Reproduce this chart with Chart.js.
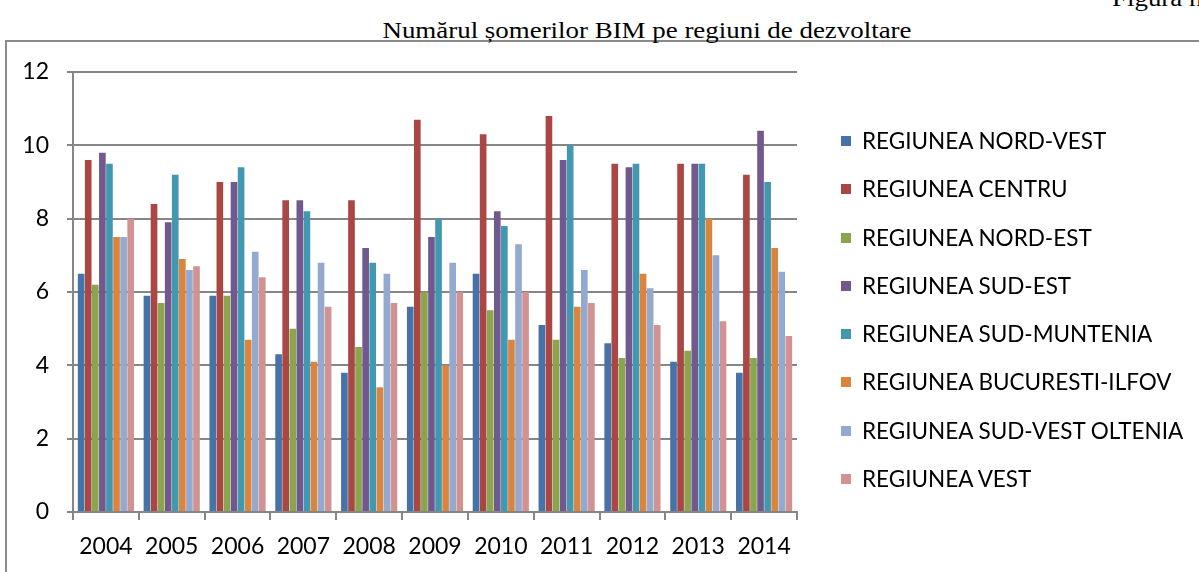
<!DOCTYPE html>
<html>
<head>
<meta charset="utf-8">
<script src="https://cdn.jsdelivr.net/npm/chart.js@4/dist/chart.umd.min.js"></script>
<style>
html,body{margin:0;padding:0;background:#fff;width:1199px;height:572px;overflow:hidden;}
#wrap{position:relative;width:1199px;height:572px;overflow:hidden;}
#frame{position:absolute;left:5px;top:40px;width:1300px;height:600px;border:2px solid #8a8a8a;box-sizing:border-box;}
#cv{position:absolute;left:0;top:0;}
#title{position:absolute;left:647px;top:18px;transform:translateX(-50%) scaleX(1.17);font-family:"Liberation Serif","Times New Roman",serif;font-size:23px;color:#000;white-space:nowrap;}
#fig{position:absolute;left:1112px;top:-14px;transform-origin:left top;transform:scaleX(1.17);font-family:"Liberation Serif",serif;font-size:23px;color:#000;white-space:nowrap;}
#legend{position:absolute;left:841px;top:127px;font-family:Lato,"Open Sans",sans-serif;font-size:22.5px;color:#000;}
.li{position:relative;height:48.3px;white-space:nowrap;}
.sw{position:absolute;left:0;top:9px;width:10px;height:10px;}
.lt{position:absolute;left:21px;top:0;line-height:28px;}
</style>
</head>
<body>
<div id="wrap">
<div id="frame"></div>
<div id="fig">Figura n</div>
<div id="title">Numărul șomerilor BIM pe regiuni de dezvoltare</div>
<canvas id="cv" width="1199" height="572"></canvas>
<div id="legend"></div>
</div>
<script>
const years = ["2004","2005","2006","2007","2008","2009","2010","2011","2012","2013","2014"];
const seriesNames = ["REGIUNEA NORD-VEST","REGIUNEA CENTRU","REGIUNEA NORD-EST","REGIUNEA SUD-EST","REGIUNEA SUD-MUNTENIA","REGIUNEA BUCURESTI-ILFOV","REGIUNEA SUD-VEST OLTENIA","REGIUNEA VEST"];
const nordVest   = [6.5, 5.9, 5.9, 4.3, 3.8, 5.6, 6.5, 5.1, 4.6, 4.1, 3.8];
const centru     = [9.6, 8.4, 9.0, 8.5, 8.5, 10.7, 10.3, 10.8, 9.5, 9.5, 9.2];
const nordEst    = [6.2, 5.7, 5.9, 5.0, 4.5, 6.0, 5.5, 4.7, 4.2, 4.4, 4.2];
const sudEst     = [9.8, 7.9, 9.0, 8.5, 7.2, 7.5, 8.2, 9.6, 9.4, 9.5, 10.4];
const sudMuntenia= [9.5, 9.2, 9.4, 8.2, 6.8, 8.0, 7.8, 10.0, 9.5, 9.5, 9.0];
const bucIlfov   = [7.5, 6.9, 4.7, 4.1, 3.4, 4.0, 4.7, 5.6, 6.5, 8.0, 7.2];
const sudVestOlt = [7.5, 6.6, 7.1, 6.8, 6.5, 6.8, 7.3, 6.6, 6.1, 7.0, 6.55];
const vest       = [8.0, 6.7, 6.4, 5.6, 5.7, 6.0, 6.0, 5.7, 5.1, 5.2, 4.8];
const yTicks = [0, 2, 4, 6, 8, 10, 12];
const colors = ["#4572A7","#AA4643","#89A54E","#71588F","#4198AF","#DB843D","#93A9CF","#D19392"];
const allSeries = [nordVest, centru, nordEst, sudEst, sudMuntenia, bucIlfov, sudVestOlt, vest];

const datasets = allSeries.map((d,i)=>({
  label: seriesNames[i],
  data: d,
  backgroundColor: colors[i],
  borderWidth: 0,
  categoryPercentage: 0.86,
  barPercentage: 0.94
}));

const lg = document.getElementById('legend');
seriesNames.forEach((n,i)=>{
  const d=document.createElement('div'); d.className='li';
  d.innerHTML='<div class="sw" style="background:'+colors[i]+'"></div><div class="lt">'+n+'</div>';
  lg.appendChild(d);
});

const font = {family: 'Lato, "Open Sans", sans-serif', size: 23};
new Chart(document.getElementById('cv'), {
  type: 'bar',
  data: {labels: years, datasets},
  options: {
    responsive: false,
    animation: false,
    devicePixelRatio: 1,
    layout: {padding: {left: 0, right: 402, top: 72, bottom: 0}},
    plugins: {legend: {display: false}, tooltip: {enabled: false}},
    scales: {
      x: {
        grid: {display: true, drawOnChartArea: false, drawTicks: true, tickLength: 8, color: '#868686', lineWidth: 2, offset: true},
        border: {display: true, color: '#868686', width: 2},
        ticks: {color: '#000', font, padding: 13},
        afterFit: s => { s.height = 60; }
      },
      y: {
        min: 0, max: 12,
        afterBuildTicks: s => { s.ticks = yTicks.map(v=>({value:v})); },
        grid: {color: '#868686', lineWidth: 2, tickLength: 6},
        border: {display: true, color: '#868686', width: 2},
        ticks: {color: '#000', font, padding: 18},
        afterFit: s => { s.width = 73; }
      }
    }
  }
});
</script>
</body>
</html>
